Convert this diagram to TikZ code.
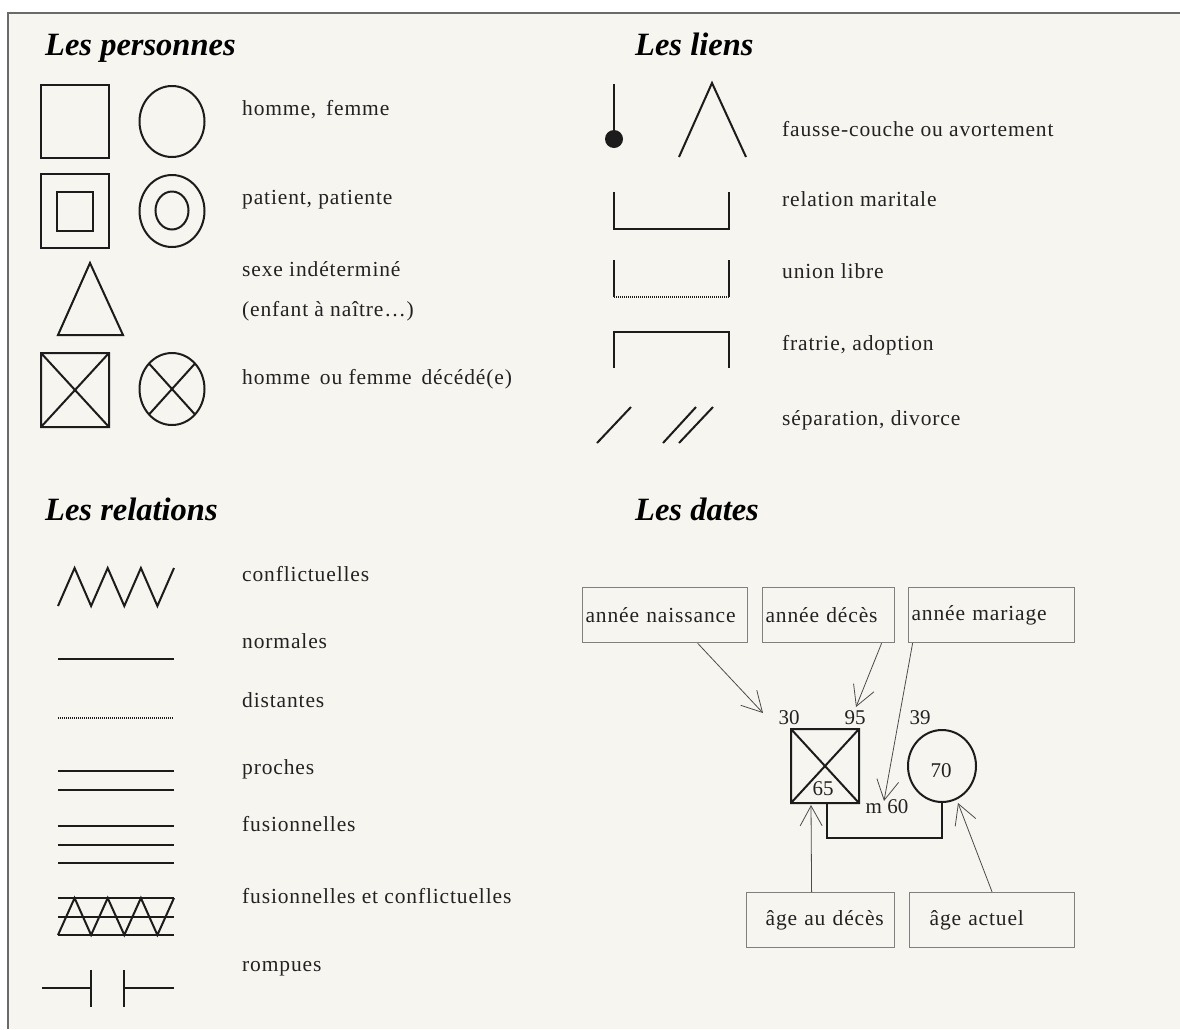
\documentclass[tikz,border=0pt]{standalone}
\usepackage{fontspec}
\setmainfont{Liberation Serif}
\newfontfamily\lblfont[LetterSpace=4]{Liberation Serif}
\usetikzlibrary{arrows.meta}
\definecolor{fond}{HTML}{F7F5F0}
\definecolor{cadre}{HTML}{6A6A6A}
\definecolor{trait}{HTML}{1C1C1C}
\definecolor{texte}{HTML}{222222}

\begin{document}
\begin{tikzpicture}
  [ x=1pt, y=-1pt,
    titre/.style={anchor=base west, inner sep=0pt, text=black,
      font=\fontsize{32.5}{36}\selectfont\bfseries\itshape},
    lbl/.style={anchor=base west, inner sep=0pt, text=texte,
      font=\fontsize{21.5}{24}\selectfont\lblfont},
    nb/.style={inner sep=0pt, text=texte, font=\fontsize{21}{24}\selectfont},
    sym/.style={draw=trait, line width=2pt},
    pointille/.style={draw=trait, line width=1.3pt, dash pattern=on 1pt off 1pt},
    boite/.style={draw=gray, line width=1.2pt, anchor=north west,
      minimum height=55pt, align=left, inner ysep=0pt, inner xsep=3pt, text=texte,
      font=\fontsize{21.5}{24}\selectfont\lblfont},
    fleche/.style={draw=gray!60!black, line width=0.8pt,
      -{Straight Barb[length=20pt, width=22pt]}}
  ]
  \useasboundingbox (0,0) rectangle (1180,1029);
  \fill[white] (0,0) rectangle (1180,1029);
  \fill[fond] (8,13) rectangle (1180,1029);
  \draw[cadre, line width=2.5pt] (8,1029) -- (8,13) -- (1180,13);

  % titres
  \node (h1) at (45,55)  [titre] {Les personnes};
  \node (h2) at (635,55) [titre] {Les liens};
  \node (h3) at (45,520) [titre] {Les relations};
  \node (h4) at (635,520)[titre] {Les dates};

  % les personnes
  \draw[sym] (41,85) rectangle (109,158);
  \draw[sym] (172,121.5) ellipse [x radius=32.5pt, y radius=35.5pt];
  \draw[sym] (41,174) rectangle (109,248) (57,192) rectangle (93,231);
  \draw[sym] (172,211) ellipse [x radius=32.5pt, y radius=36pt];
  \draw[sym] (172,210.5) ellipse [x radius=16.5pt, y radius=19pt];
  \draw[sym] (90,263) -- (123,335) -- (58,335) -- cycle;
  \draw[sym] (41,353) rectangle (109,427) (41,353) -- (109,427) (41,427) -- (109,353);
  \draw[sym] (172,389) ellipse [x radius=32.5pt, y radius=36pt];
  \draw[sym] (149,363.5) -- (195,414.5) (149,414.5) -- (195,363.5);

  \node (pers1) at (242,115) [lbl] {homme,\, femme};
  \node (pers2) at (242,204) [lbl] {patient, patiente};
  \node (pers3) at (242,276) [lbl] {sexe indéterminé};
  \node (pers4) at (242,316) [lbl] {(enfant à naître\dots)};
  \node (pers5) at (242,384) [lbl] {homme\, ou femme\, décédé(e)};

  % les liens
  \draw[sym] (614,84) -- (614,138);
  \fill[trait] (614,139) circle (9pt);
  \draw[sym] (679,157) -- (712,83) -- (746,157);
  \draw[sym] (614,192) -- (614,229) -- (729,229) -- (729,192);
  \draw[sym] (614,260) -- (614,297) (729,297) -- (729,260);
  \draw[pointille] (614,297) -- (729,297);
  \draw[sym] (614,368) -- (614,332) -- (729,332) -- (729,368);
  \draw[sym] (597,443) -- (631,407) (663,443) -- (696,407) (679,443) -- (713,407);

  \node (lien1) at (782,136) [lbl] {fausse-couche ou avortement};
  \node (lien2) at (782,206) [lbl] {relation maritale};
  \node (lien3) at (782,278) [lbl] {union libre};
  \node (lien4) at (782,350) [lbl] {fratrie, adoption};
  \node (lien5) at (782,425) [lbl] {séparation, divorce};

  % les relations
  \draw[sym] (58,606) -- (74.6,568) -- (91.1,606) -- (107.7,568) -- (124.3,606)
    -- (140.9,568) -- (157.4,606) -- (174,568);
  \draw[sym] (58,659) -- (174,659);
  \draw[pointille] (58,718) -- (174,718);
  \draw[sym] (58,771) -- (174,771) (58,790) -- (174,790);
  \draw[sym] (58,826) -- (174,826) (58,845) -- (174,845) (58,863) -- (174,863);
  \draw[sym] (58,898) -- (174,898) (58,917) -- (174,917) (58,935) -- (174,935);
  \draw[sym] (58,935) -- (74.6,898) -- (91.1,935) -- (107.7,898) -- (124.3,935)
    -- (140.9,898) -- (157.4,935) -- (174,898);
  \draw[sym] (42,988) -- (91,988) (91,970) -- (91,1007)
    (124,970) -- (124,1007) (124,988) -- (174,988);

  \node (rel1) at (242,581) [lbl] {conflictuelles};
  \node (rel2) at (242,648) [lbl] {normales};
  \node (rel3) at (242,707) [lbl] {distantes};
  \node (rel4) at (242,774) [lbl] {proches};
  \node (rel5) at (242,831) [lbl] {fusionnelles};
  \node (rel6) at (242,903) [lbl] {fusionnelles et conflictuelles};
  \node (rel7) at (242,971) [lbl] {rompues};

  % les dates
  \node (nais)   at (582,587) [boite, minimum width=165pt, text width=159pt] {année naissance};
  \node (deces)  at (762,587) [boite, minimum width=132pt, text width=126pt] {année décès};
  \node (mariag) at (908,587) [boite, minimum width=166pt, text width=160pt] {année mariage};
  \node (agedc)  at (746,892) [boite, minimum width=148pt, text width=142pt] {\hspace*{16pt}âge au décès};
  \node (ageac)  at (909,892) [boite, minimum width=165pt, text width=159pt] {\hspace*{17pt}âge actuel};

  \draw[sym] (791,729) rectangle (859,803) (791,729) -- (859,803) (791,803) -- (859,729);
  \draw[sym] (942,766) ellipse [x radius=34pt, y radius=36pt];
  \draw[sym] (827,803) -- (827,838) -- (942,838) -- (942,802);

  \node (n30) at (789,718) [nb] {30};
  \node (n95) at (855,718) [nb] {95};
  \node (n39) at (920,718) [nb] {39};
  \node (n65) at (823,789) [nb] {65};
  \node (n70) at (941,771) [nb] {70};
  \node (nm60) at (887,807) [nb] {m 60};

  \coordinate (p30) at (763,713);
  \coordinate (p95) at (856,707);
  \coordinate (pm)  at (884,801);
  \coordinate (p65) at (811,805);
  \coordinate (p70) at (958,803);
  \draw[fleche] ([xshift=32.5pt]nais.south) -- (p30);
  \draw[fleche] ([xshift=53pt]deces.south) -- (p95);
  \draw[fleche] ([xshift=-79pt]mariag.south) -- (pm);
  \draw[fleche] ([xshift=-9pt]agedc.north) -- (p65);
  \draw[fleche] (ageac.north) -- (p70);
\end{tikzpicture}
\end{document}
